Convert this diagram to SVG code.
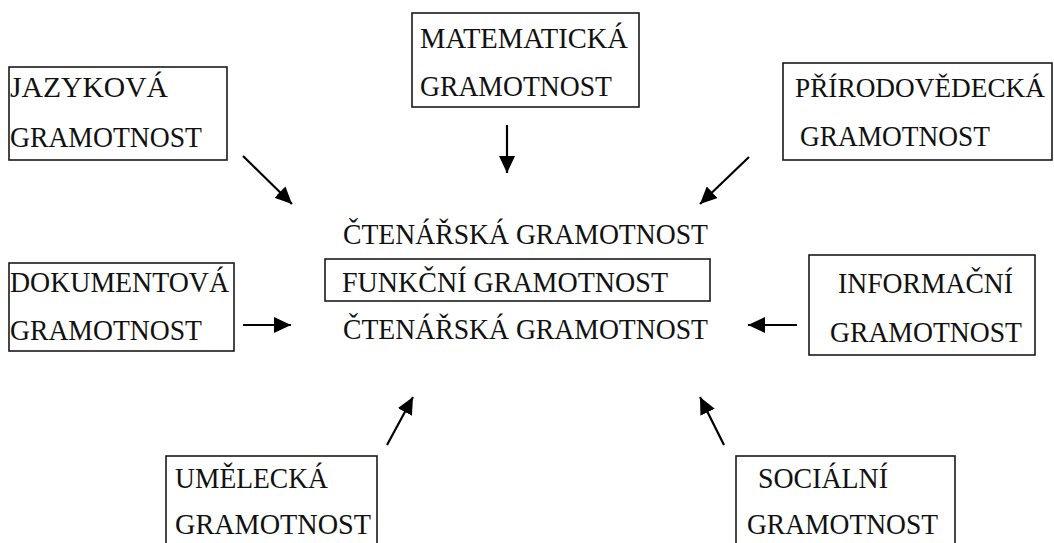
<svg xmlns="http://www.w3.org/2000/svg" width="1054" height="543" viewBox="0 0 1054 543">
<style>
.box{fill:none;stroke:#1a1a1a;stroke-width:1.6}
.t{font-family:"Liberation Serif","Times New Roman",serif;font-size:29px;fill:#111}
.c{stroke:#000;stroke-width:2.2;fill:none;marker-end:url(#ah)}
</style>
<defs>
<marker id="ah" markerUnits="userSpaceOnUse" markerWidth="18" markerHeight="16" refX="17" refY="8" orient="auto">
<path d="M0,0 L17,8 L0,16 Z" fill="#000"/>
</marker>
</defs>
<rect width="1054" height="543" fill="#fff"/>
<g id="jazykova">
<rect class="box" x="9" y="67" width="218" height="93"/>
<text class="t" x="10" y="97" textLength="158" lengthAdjust="spacingAndGlyphs">JAZYKOVÁ</text>
<text class="t" x="10" y="147" textLength="192" lengthAdjust="spacingAndGlyphs">GRAMOTNOST</text>
</g>
<g id="matematicka">
<rect class="box" x="412" y="13" width="227" height="94"/>
<text class="t" x="420" y="48" textLength="208" lengthAdjust="spacingAndGlyphs">MATEMATICKÁ</text>
<text class="t" x="420" y="96" textLength="192" lengthAdjust="spacingAndGlyphs">GRAMOTNOST</text>
</g>
<g id="prirodovedecka">
<rect class="box" x="783" y="63" width="269" height="97"/>
<text class="t" x="795" y="97" style="font-size:27px" textLength="250" lengthAdjust="spacingAndGlyphs">PŘÍRODOVĚDECKÁ</text>
<text class="t" x="800" y="146" textLength="190" lengthAdjust="spacingAndGlyphs">GRAMOTNOST</text>
</g>
<g id="dokumentova">
<rect class="box" x="9" y="263" width="225" height="88"/>
<text class="t" x="10" y="292" textLength="219" lengthAdjust="spacingAndGlyphs">DOKUMENTOVÁ</text>
<text class="t" x="10" y="340" textLength="192" lengthAdjust="spacingAndGlyphs">GRAMOTNOST</text>
</g>
<g id="center">
<text class="t" x="343" y="244" textLength="365" lengthAdjust="spacingAndGlyphs">ČTENÁŘSKÁ GRAMOTNOST</text>
<rect class="box" x="325" y="259" width="385" height="42"/>
<text class="t" x="342" y="292" textLength="326" lengthAdjust="spacingAndGlyphs">FUNKČNÍ GRAMOTNOST</text>
<text class="t" x="343" y="339" textLength="365" lengthAdjust="spacingAndGlyphs">ČTENÁŘSKÁ GRAMOTNOST</text>
</g>
<g id="informacni">
<rect class="box" x="809" y="255" width="226" height="100"/>
<text class="t" x="838" y="293" textLength="175" lengthAdjust="spacingAndGlyphs">INFORMAČNÍ</text>
<text class="t" x="830" y="342" textLength="192" lengthAdjust="spacingAndGlyphs">GRAMOTNOST</text>
</g>
<g id="umelecka">
<rect class="box" x="166" y="456" width="211" height="100"/>
<text class="t" x="175" y="488" textLength="153" lengthAdjust="spacingAndGlyphs">UMĚLECKÁ</text>
<text class="t" x="175" y="534" textLength="196" lengthAdjust="spacingAndGlyphs">GRAMOTNOST</text>
</g>
<g id="socialni">
<rect class="box" x="736" y="456" width="219" height="100"/>
<text class="t" x="758" y="488" textLength="130" lengthAdjust="spacingAndGlyphs">SOCIÁLNÍ</text>
<text class="t" x="747" y="534" textLength="191" lengthAdjust="spacingAndGlyphs">GRAMOTNOST</text>
</g>
<g id="connectors">
<line class="c" x1="243" y1="156" x2="292" y2="204"/>
<line class="c" x1="507" y1="125" x2="507" y2="173"/>
<line class="c" x1="749" y1="157" x2="700" y2="204"/>
<line class="c" x1="243" y1="325" x2="291" y2="325"/>
<line class="c" x1="797" y1="325" x2="748" y2="325"/>
<line class="c" x1="387" y1="445" x2="413" y2="397"/>
<line class="c" x1="724" y1="445" x2="700" y2="397"/>
</g>
</svg>
